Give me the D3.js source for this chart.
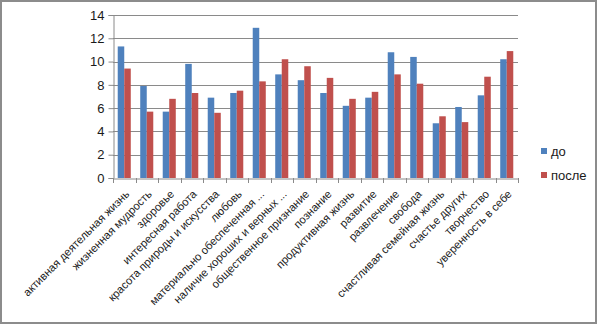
<!DOCTYPE html>
<html>
<head>
<meta charset="utf-8">
<script src="https://cdn.jsdelivr.net/npm/d3@7"></script>
<style>
  body { margin: 0; background: #fff; }
  svg { display: block; font-family: "Liberation Sans", Arial, sans-serif; }
</style>
</head>
<body>
<div id="chart"></div>
<script>
// =========================
// DATA
// =========================
const categories = [
  "активная деятельная жизнь",
  "жизненная мудрость",
  "здоровье",
  "интересная работа",
  "красота природы и искусства",
  "любовь",
  "материально обеспеченная ...",
  "наличие хороших и верных ...",
  "общественное признание",
  "познание",
  "продуктивная жизнь",
  "развитие",
  "развлечение",
  "свобода",
  "счастливая семейная жизнь",
  "счастье других",
  "творчество",
  "уверенность в себе"
];
const before = [11.3, 7.9, 5.7, 9.8, 6.9, 7.3, 12.9, 8.9, 8.4, 7.3, 6.2, 6.9, 10.8, 10.4, 4.7, 6.1, 7.1, 10.2];
const after  = [9.4, 5.7, 6.8, 7.3, 5.6, 7.5, 8.3, 10.2, 9.6, 8.6, 6.8, 7.4, 8.9, 8.1, 5.3, 4.8, 8.7, 10.9];
const seriesNames = ["до", "после"];
const yTicks = [0, 2, 4, 6, 8, 10, 12, 14];

const colors = ["#4F81BD", "#C0504D"];

// =========================
// SVG SETUP
// =========================
const W = 599, H = 325;
const plot = {left: 113, right: 518, top: 15, bottom: 178};

const svg = d3.select("#chart").append("svg")
  .attr("width", W)
  .attr("height", H);

// outer frame
svg.append("rect")
  .attr("x", 1).attr("y", 1)
  .attr("width", W - 4).attr("height", H - 3)
  .attr("fill", "#fff")
  .attr("stroke", "#8c8c8c")
  .attr("stroke-width", 2);

// =========================
// SCALES
// =========================
const x = d3.scaleBand()
  .domain(categories)
  .range([plot.left, plot.right])
  .paddingInner(0)
  .paddingOuter(0);

const groupW = x.bandwidth() * 0.58;
const xs = d3.scaleBand()
  .domain(seriesNames)
  .range([0, groupW]);

const y = d3.scaleLinear()
  .domain([0, 14])
  .range([plot.bottom, plot.top]);

// =========================
// GRID
// =========================
svg.append("g")
  .selectAll("line")
  .data(yTicks.filter(d => d > 0))
  .join("line")
  .attr("x1", plot.left)
  .attr("x2", plot.right)
  .attr("y1", d => Math.round(y(d)) + 0.5)
  .attr("y2", d => Math.round(y(d)) + 0.5)
  .attr("stroke", "#8a8a8a")
  .attr("stroke-width", 1);

// =========================
// BARS
// =========================
const rows = categories.map((c, i) => ({cat: c, values: [before[i], after[i]]}));

const groups = svg.append("g")
  .selectAll("g")
  .data(rows)
  .join("g")
  .attr("transform", d => `translate(${x(d.cat) + (x.bandwidth() - groupW) / 2},0)`);

groups.selectAll("rect")
  .data(d => d.values.map((v, k) => ({name: seriesNames[k], v, k})))
  .join("rect")
  .attr("x", d => xs(d.name))
  .attr("y", d => y(d.v))
  .attr("width", xs.bandwidth())
  .attr("height", d => y(0) - y(d.v))
  .attr("fill", d => colors[d.k]);

// =========================
// AXES
// =========================
const yAxis = svg.append("g")
  .attr("transform", `translate(${plot.left + 0.5},0)`)
  .call(d3.axisLeft(y).tickValues(yTicks).tickSize(5).tickPadding(4));
yAxis.select(".domain").attr("stroke", "#8a8a8a");
yAxis.selectAll(".tick line").attr("stroke", "#8a8a8a");
yAxis.selectAll("text")
  .style("font-size", "13px")
  .style("fill", "#1a1a1a");

const xAxis = svg.append("g")
  .attr("transform", `translate(0,${Math.round(plot.bottom) + 0.5})`)
  .call(d3.axisBottom(x).tickSize(0).tickFormat(""));
xAxis.select(".domain").attr("stroke", "#8a8a8a");

// category separators
svg.append("g")
  .selectAll("line")
  .data(categories.concat(["end"]))
  .join("line")
  .attr("x1", (d, i) => Math.round(plot.left + i * x.step()) + 0.5)
  .attr("x2", (d, i) => Math.round(plot.left + i * x.step()) + 0.5)
  .attr("y1", plot.bottom)
  .attr("y2", plot.bottom + 5)
  .attr("stroke", "#8a8a8a");

// rotated category labels
svg.append("g")
  .selectAll("text")
  .data(categories)
  .join("text")
  .attr("transform", d => `translate(${x(d) + x.bandwidth() / 2 + 3},${plot.bottom + 14}) rotate(-45)`)
  .attr("text-anchor", "end")
  .attr("dy", "0.35em")
  .style("font-size", "11.2px")
  .style("fill", "#1a1a1a")
  .text(d => d);

// =========================
// LEGEND
// =========================
const legend = svg.append("g")
  .selectAll("g")
  .data(seriesNames)
  .join("g")
  .attr("transform", (d, i) => `translate(541,${148 + i * 24})`);

legend.append("rect")
  .attr("width", 6)
  .attr("height", 6)
  .attr("fill", (d, i) => colors[i]);

legend.append("text")
  .attr("x", 10)
  .attr("y", 8)
  .style("font-size", "13px")
  .style("fill", "#1a1a1a")
  .text(d => d);
</script>
</body>
</html>
